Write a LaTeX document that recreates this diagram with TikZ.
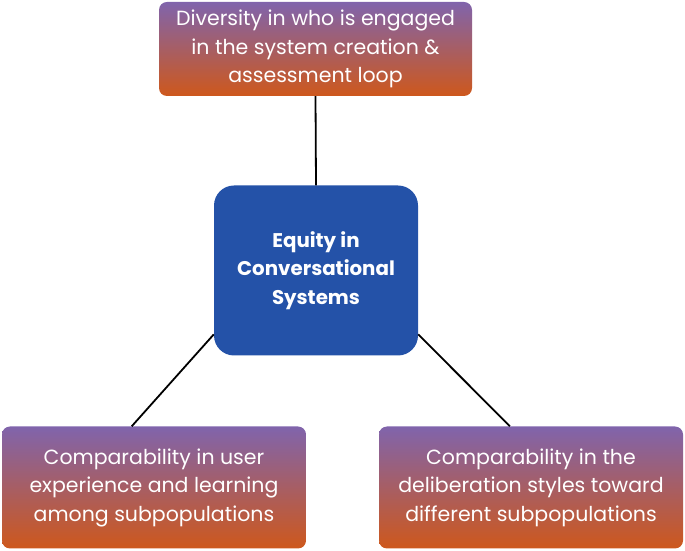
\documentclass[tikz,border=0pt]{standalone}
\usepackage{fontspec}
\setmainfont{Poppins}
\usetikzlibrary{positioning}
\definecolor{topviolet}{RGB}{128,100,172}
\definecolor{baseorange}{RGB}{206,88,28}
\definecolor{hubblue}{RGB}{36,82,168}

\begin{document}
\begin{tikzpicture}[x=1pt, y=1pt,
    aspect/.style={rectangle, rounded corners=8pt, top color=topviolet,
      bottom color=baseorange, text=white, align=center, inner sep=0pt,
      font=\fontsize{20.5}{28.5}\selectfont},
    hub/.style={rectangle, rounded corners=20pt, fill=hubblue, text=white,
      align=center, inner sep=0pt, font=\bfseries\fontsize{19.8}{28.5}\selectfont},
    link/.style={draw=black, line width=1.8pt}]
    \useasboundingbox (0,0) rectangle (685,551);

    \node[hub, minimum width=204pt, minimum height=170pt] (equity) at (316,280.5)
    {Equity in\\Conversational\\Systems};

    \node[aspect, minimum width=313pt, minimum height=94pt] (diversity) at (315.5,502)
    {Diversity in who is engaged\\in the system creation \&\\assessment loop};
    \node[aspect, minimum width=304pt, minimum height=122pt] (learning) at (154,63.5)
    {Comparability in user\\experience and learning\\among subpopulations};
    \node[aspect, minimum width=304pt, minimum height=122pt] (styles) at (531,63.5)
    {Comparability in the\\deliberation styles toward\\different subpopulations};

    \draw[link] (diversity.south) -- (equity.north);
    \draw[link] (equity.212) -- (learning.110);
    \draw[link] (equity.328) -- (styles.109);
  \end{tikzpicture}
\end{document}
